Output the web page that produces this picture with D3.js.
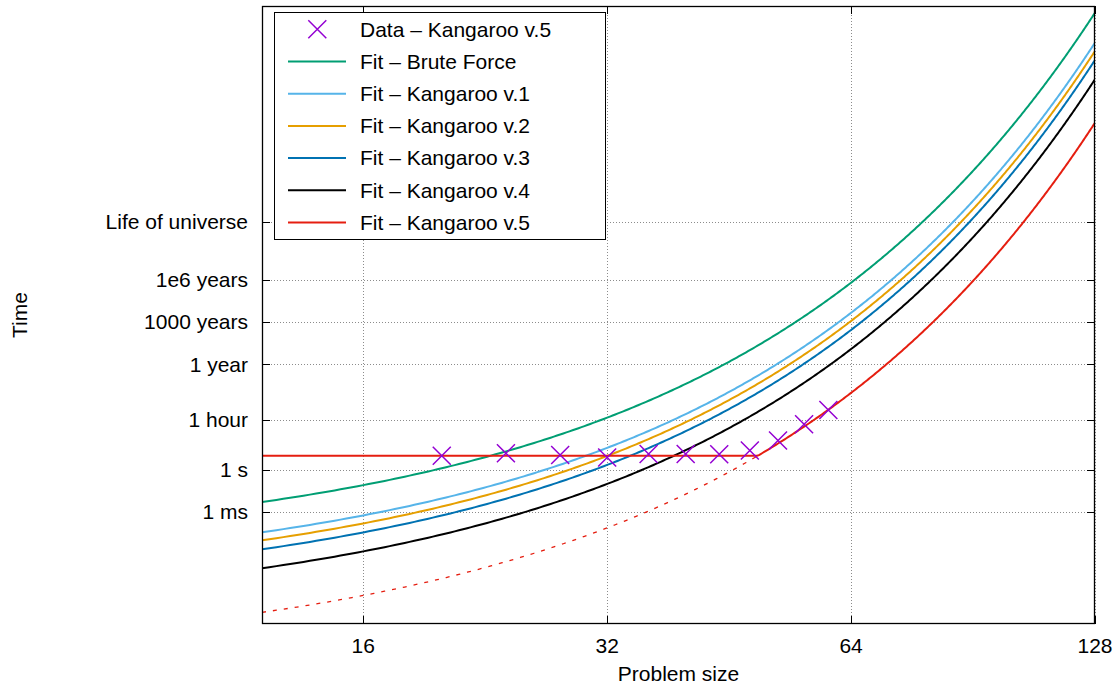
<!DOCTYPE html>
<html>
<head>
<meta charset="utf-8">
<script src="https://cdn.jsdelivr.net/npm/d3@7"></script>
<style>
  html, body { margin: 0; padding: 0; background: #fff; }
  svg { display: block; font-family: "Liberation Sans", Arial, Helvetica, sans-serif; }
</style>
</head>
<body>
<svg id="chart" width="1115" height="687"></svg>
<script>
// Problem sizes (bits) and measured run times (seconds) for Kangaroo v.5
const dataSizes = [20, 24, 28, 32, 36, 40, 44, 48, 52, 56, 60];
const dataTimes = [9.6, 14.2, 10.7, 7.1, 12.6, 12.6, 12.0, 22.5, 116, 1650, 17200];

// Fitted models: time = 10^log10A * 2^(b * n)
const fitNames  = ["Fit – Brute Force", "Fit – Kangaroo v.1", "Fit – Kangaroo v.2",
                   "Fit – Kangaroo v.3", "Fit – Kangaroo v.4", "Fit – Kangaroo v.5"];
const fitLog10A = [-5.918, -8.076, -8.644, -9.284, -10.631, -13.776];
const fitB      = [0.9976, 0.9983, 0.9976, 0.9976, 0.9969, 0.9983];
const fitColors = ["#009e73", "#56b4e9", "#e69f00", "#0072b2", "#000000", "#e51e10"];
// Kangaroo v.5 has a constant floor (seconds) below which the run time does not drop
const v5Floor = 9.6;

// Axis ticks
const xTicks = [16, 32, 64, 128];
const yTickValues = [1e-3, 1, 3600, 3.156e7, 3.156e10, 3.156e13, 4.355e17];
const yTickLabels = ["1 ms", "1 s", "1 hour", "1 year", "1000 years", "1e6 years", "Life of universe"];

const dataColor = "#9400d3";

const svg = d3.select("#chart");
const plotLeft = 262, plotRight = 1095, plotTop = 6, plotBottom = 624;

const x = d3.scaleLog().base(2).domain([12, 128]).range([plotLeft, plotRight]);
const y = d3.scaleLog().domain([1e-11, 1e33]).range([plotBottom, plotTop]);

const fontSize = 21;

// Clip for plot contents
svg.append("defs").append("clipPath").attr("id", "plotClip")
  .append("rect").attr("x", plotLeft).attr("y", plotTop)
  .attr("width", plotRight - plotLeft).attr("height", plotBottom - plotTop);

// Grid
const grid = svg.append("g").attr("stroke", "#8c8c8c").attr("stroke-width", 1)
  .attr("stroke-dasharray", "1,2").attr("fill", "none");
xTicks.forEach(t => {
  const px = Math.round(x(t)) + 0.5;
  grid.append("line").attr("x1", px).attr("x2", px).attr("y1", plotTop).attr("y2", plotBottom);
});
yTickValues.forEach(t => {
  const py = Math.round(y(t)) + 0.5;
  grid.append("line").attr("x1", plotLeft).attr("x2", plotRight).attr("y1", py).attr("y2", py);
});

// Curves
const nGrid = d3.range(12, 128.0001, 0.25);
const fitTime = (i, n) => Math.pow(10, fitLog10A[i]) * Math.pow(2, fitB[i] * n);
const line = d3.line().x(d => x(d[0])).y(d => y(d[1]));
const plot = svg.append("g").attr("clip-path", "url(#plotClip)");

fitNames.forEach((name, i) => {
  if (i === 5) return;
  plot.append("path")
    .attr("d", line(nGrid.map(n => [n, fitTime(i, n)])))
    .attr("fill", "none").attr("stroke", fitColors[i]).attr("stroke-width", 2)
    .attr("stroke-linejoin", "round");
});

// Kangaroo v.5: floor region and exponential region
const v5Idx = 5;
const bend = (Math.log10(v5Floor) - fitLog10A[v5Idx]) / (fitB[v5Idx] * Math.log10(2));
plot.append("path")
  .attr("d", line(nGrid.filter(n => n <= bend).concat([bend]).map(n => [n, fitTime(v5Idx, n)])))
  .attr("fill", "none").attr("stroke", fitColors[v5Idx]).attr("stroke-width", 1.3)
  .attr("stroke-dasharray", "4,7");
plot.append("path")
  .attr("d", line(nGrid.map(n => [n, Math.max(v5Floor, fitTime(v5Idx, n))])))
  .attr("fill", "none").attr("stroke", fitColors[v5Idx]).attr("stroke-width", 2)
  .attr("stroke-linejoin", "round");

// Data markers
const cross = (g, cx, cy, r) => {
  g.append("path")
    .attr("d", `M${cx - r},${cy - r}L${cx + r},${cy + r}M${cx - r},${cy + r}L${cx + r},${cy - r}`)
    .attr("stroke", dataColor).attr("stroke-width", 1.5).attr("fill", "none");
};
const marks = plot.append("g");
dataSizes.forEach((n, i) => cross(marks, x(n), y(dataTimes[i]), 9));

// Frame
svg.append("rect").attr("x", plotLeft + 0.5).attr("y", plotTop + 0.5)
  .attr("width", plotRight - plotLeft - 1).attr("height", plotBottom - plotTop - 1)
  .attr("fill", "none").attr("stroke", "#000").attr("stroke-width", 1.3);

// Tick marks (inward, mirrored)
const tickLen = 8;
const ticks = svg.append("g").attr("stroke", "#000").attr("stroke-width", 1);
xTicks.forEach(t => {
  const px = Math.round(x(t)) + 0.5;
  ticks.append("line").attr("x1", px).attr("x2", px).attr("y1", plotBottom).attr("y2", plotBottom - tickLen);
  ticks.append("line").attr("x1", px).attr("x2", px).attr("y1", plotTop).attr("y2", plotTop + tickLen);
});
yTickValues.forEach(t => {
  const py = Math.round(y(t)) + 0.5;
  ticks.append("line").attr("x1", plotLeft).attr("x2", plotLeft + tickLen).attr("y1", py).attr("y2", py);
  ticks.append("line").attr("x1", plotRight).attr("x2", plotRight - tickLen).attr("y1", py).attr("y2", py);
});

// Tick labels
const labels = svg.append("g").attr("font-size", fontSize).attr("fill", "#000");
xTicks.forEach(t => {
  labels.append("text").attr("x", x(t)).attr("y", 653).attr("text-anchor", "middle").text(t);
});
yTickValues.forEach((t, i) => {
  labels.append("text").attr("x", 248).attr("y", y(t)).attr("dy", "0.35em")
    .attr("text-anchor", "end").text(yTickLabels[i]);
});

// Axis titles
labels.append("text").attr("x", (plotLeft + plotRight) / 2).attr("y", 681)
  .attr("text-anchor", "middle").text("Problem size");
labels.append("text").attr("transform", `translate(27,${(plotTop + plotBottom) / 2}) rotate(-90)`)
  .attr("text-anchor", "middle").text("Time");

// Legend
const legend = svg.append("g");
legend.append("rect").attr("x", 274.5).attr("y", 12.5).attr("width", 331).attr("height", 227)
  .attr("fill", "#fff").attr("stroke", "#000").attr("stroke-width", 1);
const legendRows = ["Data – Kangaroo v.5"].concat(fitNames);
legendRows.forEach((label, i) => {
  const cy = 29.3 + i * 32.2;
  if (i === 0) {
    cross(legend, 317.3, cy, 9);
  } else {
    legend.append("line").attr("x1", 288).attr("x2", 346).attr("y1", cy).attr("y2", cy)
      .attr("stroke", fitColors[i - 1]).attr("stroke-width", 2);
  }
  legend.append("text").attr("x", 360).attr("y", cy).attr("dy", "0.35em")
    .attr("font-size", fontSize).text(label);
});
</script>
</body>
</html>
